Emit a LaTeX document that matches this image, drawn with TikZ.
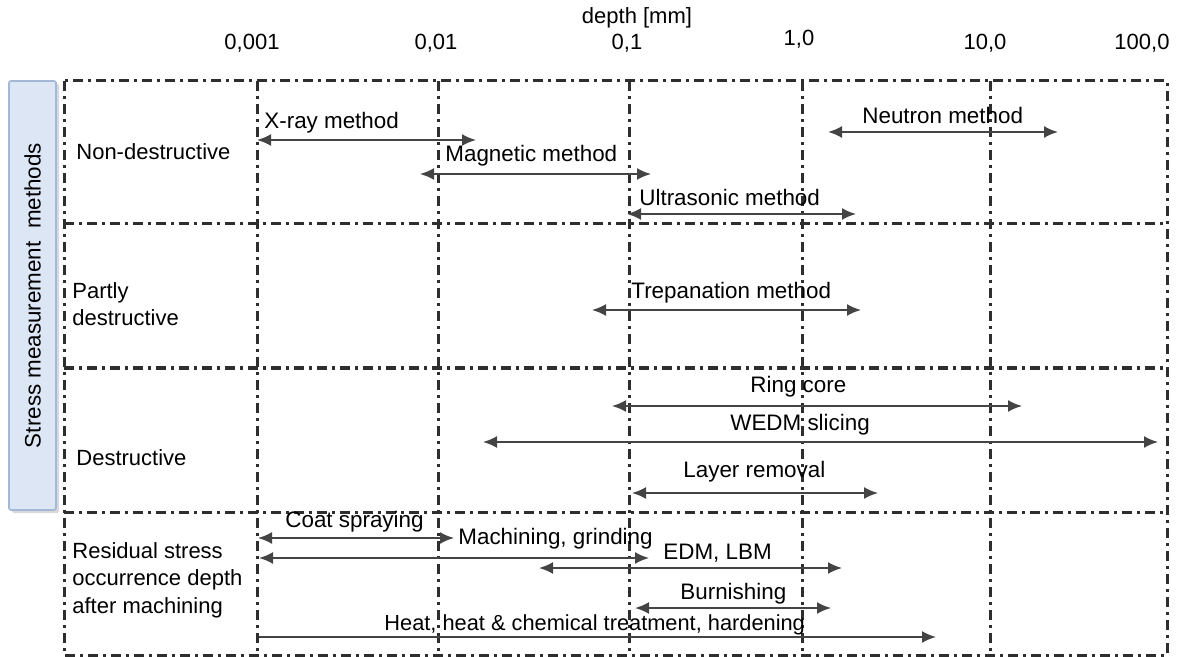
\documentclass[tikz,border=0pt]{standalone}
\usepackage{fontspec}
\setmainfont{Liberation Sans}
\usetikzlibrary{arrows.meta,shadows}
\definecolor{gridgray}{HTML}{2E2E2E}
\definecolor{arrowgray}{HTML}{444444}
\definecolor{barblue}{HTML}{DCE6F5}
\definecolor{barline}{HTML}{A3B7D6}
\tikzset{
gridLine/.style={
 draw=gridgray,
 line width=1.5pt,
 dash pattern=on 5pt off 2.5pt on 1.5pt off 2.5pt
 },
twoWay/.style={
 draw=arrowgray,
 line width=1pt,
 {Latex[length=7pt,width=6pt]}-{Latex[length=7pt,width=6pt]}
 },
oneWay/.style={
 draw=arrowgray,
 line width=1pt,
 -{Latex[length=7pt,width=6pt]}
 },
methodLabel/.style={
 anchor=west,
 inner sep=0pt,
 font=\fontsize{11.2}{13.5}\selectfont
 },
rowLabel/.style={
 anchor=west,
 inner sep=0pt,
 align=left,
 font=\fontsize{11}{13.7}\selectfont
 },
tickLabel/.style={
 inner sep=0pt,
 font=\fontsize{11}{13}\selectfont
 }
}

\begin{document}
\begin{tikzpicture}[x=0.5pt,y=-0.5pt]
\useasboundingbox (0,0) rectangle (1182,657);
% axis
\node[tickLabel] (axis) at (637,18) {depth [mm]};
\node[tickLabel] (t1) at (252,43) {0,001};
\node[tickLabel] (t2) at (436,43) {0,01};
\node[tickLabel] (t3) at (627,43) {0,1};
\node[tickLabel] (t4) at (799,39) {1,0};
\node[tickLabel] (t5) at (985,43) {10,0};
\node[tickLabel] (t6) at (1142,43) {100,0};
% side bar
\node[draw=barline, fill=barblue, line width=0.8pt, rounded corners=1pt,
 drop shadow={shadow xshift=1.5pt,shadow yshift=-1.5pt,opacity=0.3},
 minimum width=23.5pt, minimum height=214.5pt, inner sep=0pt] (bar) at (32.5,295.5) {};
\node[rotate=90, font=\fontsize{11.2}{13.5}\selectfont] (barText) at (bar.center) {Stress measurement\ \ methods};
% grid
\draw[gridLine] (64,81) rectangle (1167,655);
\draw[gridLine] (64,224) -- (1167,224);
\draw[gridLine] (64,368) -- (1167,368);
\draw[gridLine] (64,512) -- (1167,512);
\draw[gridLine] (257,81) -- (257,655);
\draw[gridLine] (438,81) -- (438,655);
\draw[gridLine] (629,81) -- (629,655);
\draw[gridLine] (802,81) -- (802,655);
\draw[gridLine] (990,81) -- (990,655);
% rows
\node[rowLabel] (nonDes) at (76,152) {Non-destructive};
\node[rowLabel] (partDes) at (72,304) {Partly\\destructive};
\node[rowLabel] (des) at (76,458) {Destructive};
\node[rowLabel] (resid) at (72,580) {Residual stress\\occurrence depth\\after machining};
% non-destructive
\coordinate (xrayA) at (257,140);
\coordinate (xrayB) at (476,140);
\draw[twoWay] (xrayA) -- (xrayB);
\node[methodLabel] (xray) at (264,123) {X-ray method};
\coordinate (neutA) at (828,132);
\coordinate (neutB) at (1058,132);
\draw[twoWay] (neutA) -- (neutB);
\node[methodLabel] (neut) at (862,115) {Neutron method};
\coordinate (magA) at (420,174);
\coordinate (magB) at (651,174);
\draw[twoWay] (magA) -- (magB);
\node[methodLabel] (mag) at (445,156) {Magnetic method};
\coordinate (ultA) at (627,214);
\coordinate (ultB) at (856,214);
\draw[twoWay] (ultA) -- (ultB);
\node[methodLabel] (ult) at (639,197) {Ultrasonic method};
% partly destructive
\coordinate (trepA) at (592,310);
\coordinate (trepB) at (861,310);
\draw[twoWay] (trepA) -- (trepB);
\node[methodLabel] (trep) at (631,293) {Trepanation method};
% destructive
\coordinate (ringA) at (612,406);
\coordinate (ringB) at (1022,406);
\draw[twoWay] (ringA) -- (ringB);
\node[methodLabel] (ring) at (750,387) {Ring core};
\coordinate (wedmA) at (483,442);
\coordinate (wedmB) at (1158,442);
\draw[twoWay] (wedmA) -- (wedmB);
\node[methodLabel] (wedm) at (730,425) {WEDM slicing};
\coordinate (layerA) at (632,493);
\coordinate (layerB) at (878,493);
\draw[twoWay] (layerA) -- (layerB);
\node[methodLabel] (layer) at (683,472) {Layer removal};
% residual stress
\coordinate (coatA) at (258,538);
\coordinate (coatB) at (454,538);
\draw[twoWay] (coatA) -- (coatB);
\node[methodLabel] (coat) at (285,522) {Coat spraying};
\coordinate (machA) at (259,558);
\coordinate (machB) at (649,558);
\draw[twoWay] (machA) -- (machB);
\node[methodLabel] (mach) at (458,539) {Machining, grinding};
\coordinate (edmA) at (539,568);
\coordinate (edmB) at (842,568);
\draw[twoWay] (edmA) -- (edmB);
\node[methodLabel] (edm) at (663,553) {EDM, LBM};
\coordinate (burnA) at (635,608);
\coordinate (burnB) at (831,608);
\draw[twoWay] (burnA) -- (burnB);
\node[methodLabel] (burn) at (680,594) {Burnishing};
\coordinate (heatA) at (259,637);
\coordinate (heatB) at (936,637);
\draw[oneWay] (heatA) -- (heatB);
\node[methodLabel,font=\fontsize{10.9}{13}\selectfont] (heat) at (384,625) {Heat, heat \& chemical treatment, hardening};
\end{tikzpicture}
\end{document}
